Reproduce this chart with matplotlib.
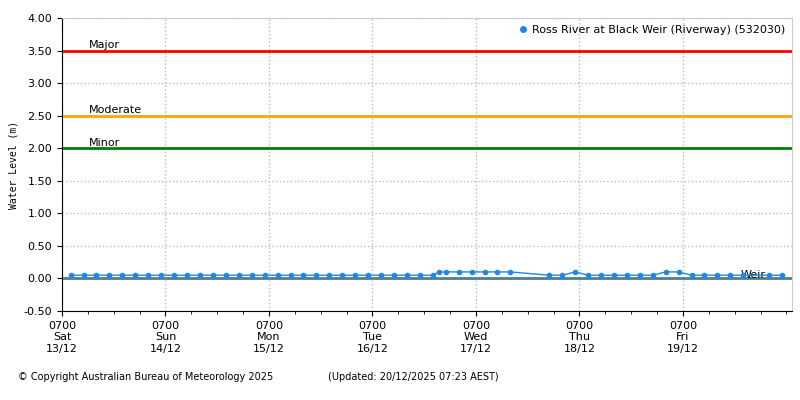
import matplotlib
matplotlib.use("Agg")
import matplotlib.pyplot as plt
from matplotlib.lines import Line2D

# hours since 0700 Sat 13/12
hours = list(range(2, 84, 3)) + [86, 87.5, 89, 92, 95, 98, 101, 104, 113, 116, 119, 122, 125, 128, 131, 134, 137, 140, 143, 146, 149, 152, 155, 158, 164, 167]
levels = [0.05] * 28 + [0.05, 0.10, 0.10, 0.10, 0.10, 0.10, 0.10, 0.10, 0.05, 0.05, 0.10, 0.05, 0.05, 0.05, 0.05, 0.05, 0.05, 0.10, 0.10, 0.05, 0.05, 0.05, 0.05, 0.05, 0.05, 0.05]
thresholds = [("Major", 3.5, "#ff0000"), ("Moderate", 2.5, "#ffa500"), ("Minor", 2.0, "#008000")]
tick_labels = ["0700\nSat\n13/12", "0700\nSun\n14/12", "0700\nMon\n15/12", "0700\nTue\n16/12",
               "0700\nWed\n17/12", "0700\nThu\n18/12", "0700\nFri\n19/12"]

fig = plt.figure(figsize=(8, 4), dpi=100)
ax = fig.add_axes([0.0775, 0.2225, 0.9125, 0.7325])
for name, y, c in thresholds:
    ax.axhline(y, color=c, lw=2, zorder=2)
    ax.text(6.3, y + 0.01, name, fontsize=8, va="bottom", ha="left")
ax.axhline(0, color="#4f7f8f", lw=2, zorder=2)
ax.text(157.3, -0.02, "Weir", fontsize=8, va="bottom", ha="left")
ax.plot(hours, levels, color="#1e88e5", lw=1, marker="o", ms=3, zorder=3)
handle = Line2D([], [], color="#1e88e5", marker="o", ms=4, ls="none")
ax.set_xlim(0, 169.3)
ax.set_ylim(-0.5, 4.0)
ax.set_yticks([i * 0.5 - 0.5 for i in range(10)])
ax.set_yticklabels([f"{i * 0.5 - 0.5:.2f}" for i in range(10)], fontsize=8)
ax.set_xticks(range(0, 145, 24))
ax.set_xticklabels(tick_labels, fontsize=8)
ax.set_xticks(range(0, 169, 6), minor=True)
ax.grid(True, which="major", color="#bbbbbb", ls=":", lw=1)
ax.set_ylabel("Water Level (m)", fontsize=7, family="DejaVu Sans Mono")
for s in ["top", "right"]:
    ax.spines[s].set_color("#cccccc")
ax.legend([handle], ["Ross River at Black Weir (Riverway) (532030)"], loc="upper right",
          fontsize=8, frameon=False, handlelength=0.6, handletextpad=0.5,
          borderaxespad=0.2)
fig.text(0.022, 0.05, "© Copyright Australian Bureau of Meteorology 2025", fontsize=7)
fig.text(0.41, 0.05, "(Updated: 20/12/2025 07:23 AEST)", fontsize=7)
fig.savefig("out.png", dpi=100)
